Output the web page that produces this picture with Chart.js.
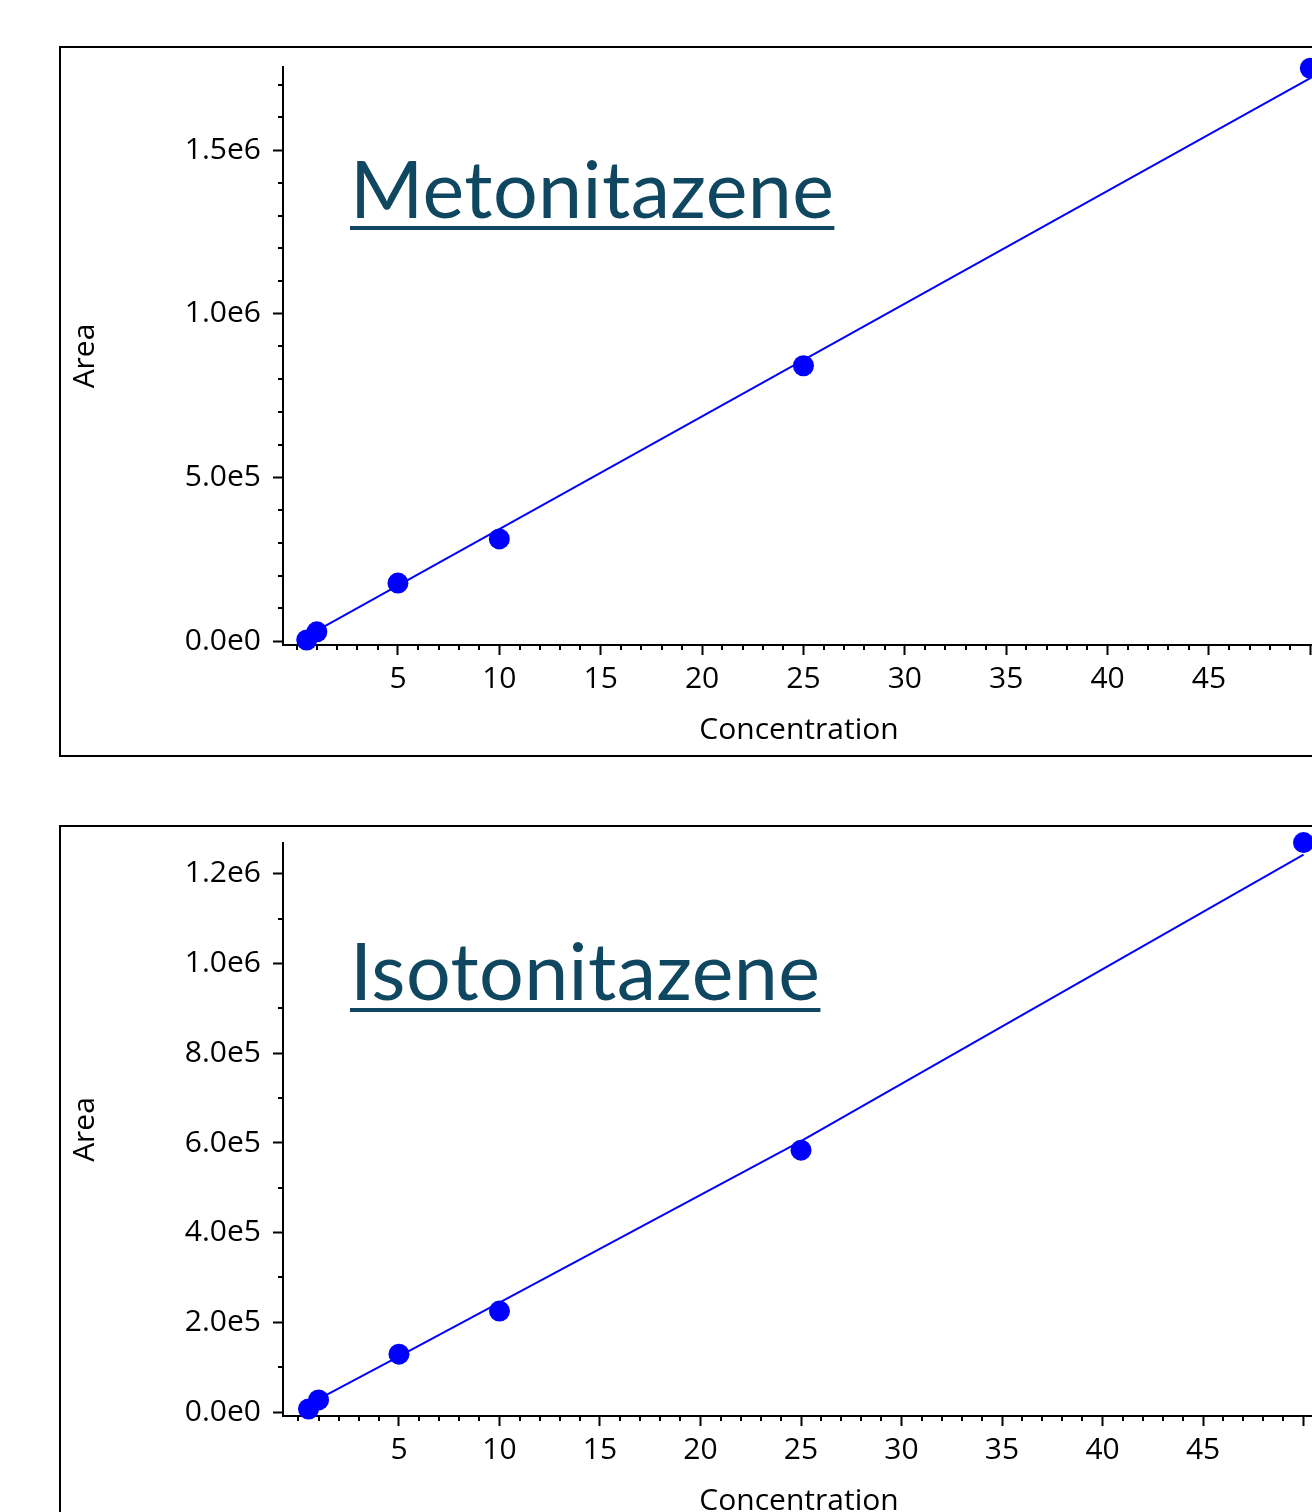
<!DOCTYPE html>
<html>
<head>
<meta charset="utf-8">
<script src="https://cdn.jsdelivr.net/npm/chart.js@4.4.1/dist/chart.umd.min.js"></script>
<style>
  html, body { margin:0; padding:0; background:#fff; width:1312px; height:1512px; overflow:hidden; }
  .panel { position:absolute; left:59px; width:1400px; border:2px solid #000; box-sizing:border-box; overflow:hidden; background:#fff; }
  .panel canvas { position:absolute; left:0; top:0; }
  .title { position:absolute; font-family:'Lato', 'Open Sans', sans-serif; font-size:79px; line-height:79px; letter-spacing:0.4px; color:#0F4761;
           text-decoration:underline; text-decoration-thickness:4px; text-underline-offset:8px; white-space:nowrap; }
</style>
</head>
<body>
<div class="panel" id="p1" style="top:46px;height:711px;"><canvas id="c1" width="1320" height="707"></canvas></div>
<div class="title" style="left:350px;top:148px;">Metonitazene</div>
<div class="panel" id="p2" style="top:825px;height:720px;"><canvas id="c2" width="1320" height="699"></canvas></div>
<div class="title" style="left:350px;top:930px;">Isotonitazene</div>
<script>
// ---- data ----
const concentrations = [0.5, 1, 5, 10, 25, 50];
const metonitazeneArea = [3000, 28000, 177000, 312000, 841000, 1750000];
const isotonitazeneArea = [6700, 27000, 129000, 225000, 584000, 1270000];
const metonitazeneFitX = [0.2, 50];
const metonitazeneFitY = [4000, 1720000];
const isotonitazeneFitX = [0.2, 5, 25, 50];
const isotonitazeneFitY = [10000, 124000, 604000, 1243000];
const xTickLabels = [5, 10, 15, 20, 25, 30, 35, 40, 45];
const metonitazeneYLabels = [0, 500000, 1000000, 1500000];
const isotonitazeneYLabels = [0, 200000, 400000, 600000, 800000, 1000000, 1200000];
const yMinorStep = 100000;

Chart.defaults.font.family = "'Segoe UI', 'Open Sans', sans-serif";
Chart.defaults.color = '#000';

function sci(v) { return v.toExponential(1).replace('e+', 'e'); }

function makeChart(id, o) {
  const isMajorX = v => xTickLabels.includes(v) || v === 50;
  const isMajorY = v => o.yLabels.includes(v);
  const yTicks = [];
  for (let v = 0; v <= o.yMax; v += yMinorStep) yTicks.push({ value: v });
  const minorTicks = {
    id: 'minorTicks',
    afterDraw(chart) {
      const {ctx, scales: {x, y}} = chart;
      ctx.save();
      ctx.strokeStyle = '#000';
      ctx.lineWidth = 2;
      ctx.beginPath();
      x.ticks.forEach(t => {
        if (!isMajorX(t.value)) {
          const p = Math.round(x.getPixelForValue(t.value));
          ctx.moveTo(p, x.top); ctx.lineTo(p, x.top + 5);
        }
      });
      y.ticks.forEach(t => {
        if (!isMajorY(t.value)) {
          const p = Math.round(y.getPixelForValue(t.value));
          ctx.moveTo(y.right - 5, p); ctx.lineTo(y.right, p);
        }
      });
      ctx.stroke();
      ctx.restore();
    }
  };
  return new Chart(document.getElementById(id), {
    type: 'scatter',
    data: {
      datasets: [
        { type: 'scatter', data: concentrations.map((c, i) => ({x: c, y: o.values[i]})),
          backgroundColor: '#0000ff', borderColor: '#0000ff', borderWidth: 0,
          pointRadius: 10.5, pointHoverRadius: 10.5, order: 0, clip: false },
        { type: 'line', data: o.fitX.map((c, i) => ({x: c, y: o.fitY[i]})),
          borderColor: '#0000ff', borderWidth: 2, pointRadius: 0, fill: false, tension: 0, order: 1, clip: false }
      ]
    },
    options: {
      responsive: false, animation: false, events: [],
      layout: { padding: { top: o.padTop, right: 66, bottom: 0, left: 0 } },
      plugins: { legend: { display: false }, tooltip: { enabled: false } },
      scales: {
        x: {
          type: 'linear', position: 'bottom', min: o.xMin, max: o.xMax,
          ticks: { stepSize: 1, includeBounds: false, autoSkip: false, maxRotation: 0, minRotation: 0,
                   font: { size: 30 }, padding: 6, color: '#000',
                   callback: v => xTickLabels.includes(v) ? String(v) : '' },
          grid: { drawOnChartArea: false, tickLength: 10, tickWidth: 2,
                  tickColor: c => (c.tick && isMajorX(c.tick.value)) ? '#000' : 'rgba(0,0,0,0)' },
          border: { display: true, color: '#000', width: 2 },
          title: { display: true, text: 'Concentration', color: '#000', font: { size: 30 }, padding: { top: 0, bottom: 7 } },
          afterFit: s => { s.height = 110; s.paddingLeft = 0; s.paddingRight = 0; }
        },
        y: {
          type: 'linear', position: 'left', min: o.yMin, max: o.yMax,
          afterBuildTicks: s => { s.ticks = yTicks.map(t => ({ value: t.value })); },
          ticks: { autoSkip: false, font: { size: 30 }, padding: 12, color: '#000',
                   callback: v => o.yLabels.includes(v) ? sci(v) : '' },
          grid: { drawOnChartArea: false, tickLength: 10, tickWidth: 2,
                  tickColor: c => (c.tick && isMajorY(c.tick.value)) ? '#000' : 'rgba(0,0,0,0)' },
          border: { display: true, color: '#000', width: 2 },
          title: { display: true, text: 'Area', color: '#000', font: { size: 30 }, padding: { top: 6, bottom: 0 } },
          afterFit: s => { s.width = 222; s.paddingTop = 0; s.paddingBottom = 0; }
        }
      }
    },
    plugins: [minorTicks]
  });
}

makeChart('c1', { values: metonitazeneArea, fitX: metonitazeneFitX, fitY: metonitazeneFitY,
  yLabels: metonitazeneYLabels, xMin: -0.67, xMax: 50.23, yMin: -12200, yMax: 1753700, padTop: 19 });
makeChart('c2', { values: isotonitazeneArea, fitX: isotonitazeneFitX, fitY: isotonitazeneFitY,
  yLabels: isotonitazeneYLabels, xMin: -0.77, xMax: 50.57, yMin: -8900, yMax: 1269000, padTop: 16 });
</script>
</body>
</html>
